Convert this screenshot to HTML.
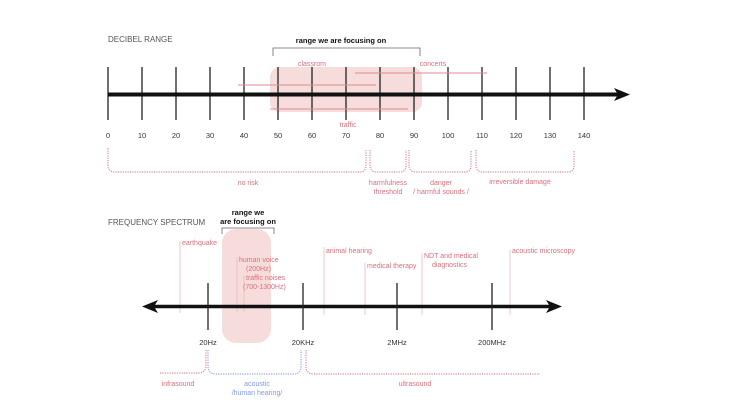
<!DOCTYPE html>
<html><head><meta charset="utf-8"><style>
html,body{margin:0;padding:0;background:#fff;}
svg{display:block;font-family:"Liberation Sans",sans-serif;}
.r{fill:#d9707a;font-size:7px;}
.k{fill:#333;font-size:7.5px;}
.h{fill:#555;font-size:8px;}
.b{fill:#111;font-size:7.5px;font-weight:bold;}
.dot{fill:none;stroke:#e08a92;stroke-width:1.2;stroke-dasharray:1.2 1.2;}
</style></head><body>
<svg width="730" height="411" viewBox="0 0 730 411">
<!-- DECIBEL -->
<text x="108" y="42" class="h">DECIBEL RANGE</text>
<text x="341" y="43" class="b" text-anchor="middle">range we are focusing on</text>
<path d="M273 56 V48 H420 V56" fill="none" stroke="#666" stroke-width="0.8"/>
<rect x="270" y="67" width="152" height="45" rx="10" fill="#f7dcdc"/>
<g stroke="#222" stroke-width="1.3">
<line x1="108" y1="67" x2="108" y2="120"/><line x1="142" y1="67" x2="142" y2="120"/><line x1="176" y1="67" x2="176" y2="120"/><line x1="210" y1="67" x2="210" y2="120"/><line x1="244" y1="67" x2="244" y2="120"/><line x1="278" y1="67" x2="278" y2="120"/><line x1="312" y1="67" x2="312" y2="120"/><line x1="346" y1="67" x2="346" y2="120"/><line x1="380" y1="67" x2="380" y2="120"/><line x1="414" y1="67" x2="414" y2="120"/><line x1="448" y1="67" x2="448" y2="120"/><line x1="482" y1="67" x2="482" y2="120"/><line x1="516" y1="67" x2="516" y2="120"/><line x1="550" y1="67" x2="550" y2="120"/><line x1="584" y1="67" x2="584" y2="120"/>
</g>
<line x1="108" y1="94.5" x2="620" y2="94.5" stroke="#111" stroke-width="4"/>
<polygon points="630,94.5 614,88 618,94.5 614,101" fill="#111"/>
<g stroke="#e08a92" stroke-width="1">
<line x1="238" y1="85" x2="376" y2="85"/><line x1="355" y1="73" x2="487" y2="73"/><line x1="270" y1="109" x2="408" y2="109"/>
</g>
<text x="312" y="66" class="r" text-anchor="middle">classrom</text>
<text x="433" y="66" class="r" text-anchor="middle">concerts</text>
<text x="348" y="127" class="r" text-anchor="middle">traffic</text>
<g class="k" text-anchor="middle">
<text x="108" y="138">0</text><text x="142" y="138">10</text><text x="176" y="138">20</text><text x="210" y="138">30</text><text x="244" y="138">40</text><text x="278" y="138">50</text><text x="312" y="138">60</text><text x="346" y="138">70</text><text x="380" y="138">80</text><text x="414" y="138">90</text><text x="448" y="138">100</text><text x="482" y="138">110</text><text x="516" y="138">120</text><text x="550" y="138">130</text><text x="584" y="138">140</text>
</g>
<path class="dot" d="M108 148 V165 Q108 172 115 172 H360 Q366 172 366 165 V150"/>
<path class="dot" d="M370 150 V165 Q370 172 377 172 H400 Q406 172 406 165 V150"/>
<path class="dot" d="M409 150 V165 Q409 172 416 172 H465 Q471 172 471 165 V150"/>
<path class="dot" d="M476 150 V165 Q476 172 483 172 H568 Q574 172 574 165 V150"/>
<text x="248" y="185" class="r" text-anchor="middle">no risk</text>
<text x="388" y="185" class="r" text-anchor="middle">harmfulness</text>
<text x="388" y="194" class="r" text-anchor="middle">threshold</text>
<text x="441" y="185" class="r" text-anchor="middle">danger</text>
<text x="441" y="194" class="r" text-anchor="middle">/ harmful sounds /</text>
<text x="520" y="184" class="r" text-anchor="middle">irreversible damage</text>

<!-- FREQUENCY -->
<text x="108" y="225" class="h">FREQUENCY SPECTRUM</text>
<text x="248" y="215" class="b" text-anchor="middle">range we</text>
<text x="248" y="224" class="b" text-anchor="middle">are focusing on</text>
<path d="M222 234 V228 H274 V234" fill="none" stroke="#666" stroke-width="0.8"/>
<rect x="222" y="229" width="49" height="114" rx="14" fill="#f7dcdc"/>
<g stroke="#f0b8bc" stroke-width="0.8">
<line x1="180" y1="241" x2="180" y2="313"/><line x1="237" y1="257" x2="237" y2="312"/><line x1="244" y1="275" x2="244" y2="312"/><line x1="324" y1="247" x2="324" y2="315"/><line x1="365" y1="263" x2="365" y2="315"/><line x1="422" y1="253" x2="422" y2="315"/><line x1="510" y1="250" x2="510" y2="315"/>
</g>
<text x="182" y="245" class="r">earthquake</text>
<text x="239" y="262" class="r">human voice</text>
<text x="246" y="271" class="r">(200Hz)</text>
<text x="246" y="280" class="r">traffic noises</text>
<text x="243" y="289" class="r">(700-1300Hz)</text>
<text x="326" y="253" class="r">animal hearing</text>
<text x="367" y="268" class="r">medical therapy</text>
<text x="424" y="258" class="r">NDT and medical</text>
<text x="432" y="267" class="r">diagnostics</text>
<text x="512" y="253" class="r">acoustic microscopy</text>
<line x1="152" y1="306.5" x2="552" y2="306.5" stroke="#111" stroke-width="3.5"/>
<polygon points="142,306.5 158,300 154,306.5 158,313" fill="#111"/>
<polygon points="562,306.5 546,300 550,306.5 546,313" fill="#111"/>
<g stroke="#222" stroke-width="1.3">
<line x1="208" y1="283" x2="208" y2="330"/><line x1="303" y1="283" x2="303" y2="330"/><line x1="397" y1="283" x2="397" y2="330"/><line x1="492" y1="283" x2="492" y2="330"/>
</g>
<g class="k" text-anchor="middle">
<text x="208" y="345">20Hz</text><text x="303" y="345">20KHz</text><text x="397" y="345">2MHz</text><text x="492" y="345">200MHz</text>
</g>
<path class="dot" d="M160 373 H199 Q206 373 206 365 V350"/>
<path d="M208 350 V366 Q208 374 216 374 H294 Q301 374 301 366 V350" fill="none" stroke="#8fa8e8" stroke-width="1.2" stroke-dasharray="1.2 1.2"/>
<path class="dot" d="M306 350 V366 Q306 374 314 374 H540"/>
<text x="178" y="386" class="r" text-anchor="middle">infrasound</text>
<text x="257" y="386" style="fill:#7f9be0;font-size:7px" text-anchor="middle">acoustic</text>
<text x="257" y="395" style="fill:#7f9be0;font-size:7px" text-anchor="middle">/human hearing/</text>
<text x="415" y="386" class="r" text-anchor="middle">ultrasound</text>
</svg>
</body></html>
